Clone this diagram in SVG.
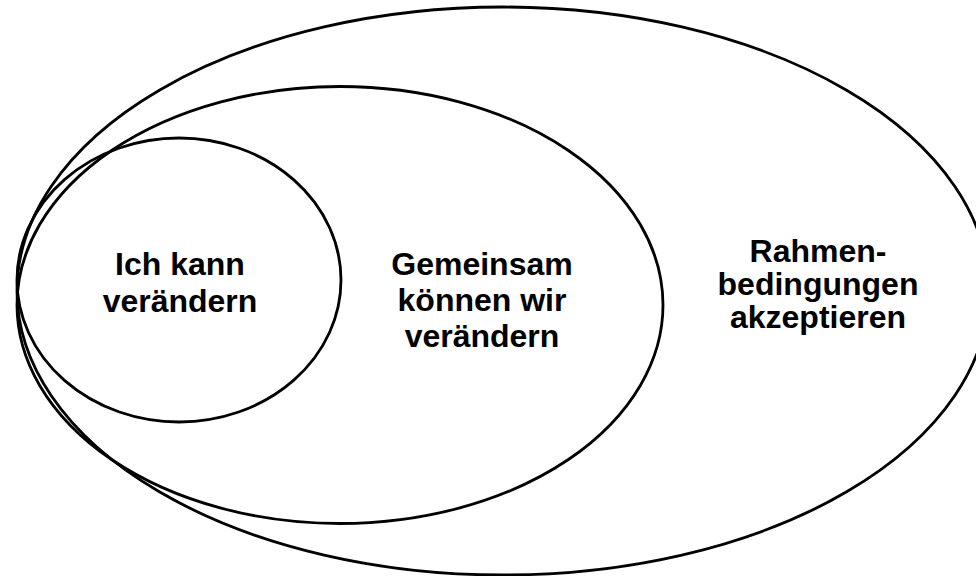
<svg xmlns="http://www.w3.org/2000/svg" width="976" height="576" viewBox="0 0 976 576">
  <style>
    .ring { fill: none; stroke: #000; stroke-width: 2.8; }
    .lbl { font-family: "Liberation Sans", Arial, sans-serif; font-weight: bold; font-size: 32px; fill: #000; text-anchor: middle; }
  </style>
  <rect width="976" height="576" fill="#fff"/>
  <g id="outer">
    <ellipse class="ring" cx="503" cy="291" rx="486" ry="284"/>
    <text class="lbl" x="818" y="262">Rahmen-</text>
    <text class="lbl" x="818" y="295">bedingungen</text>
    <text class="lbl" x="818" y="328">akzeptieren</text>
  </g>
  <g id="middle">
    <ellipse class="ring" cx="340" cy="305" rx="323" ry="218.5"/>
    <text class="lbl" x="482" y="275">Gemeinsam</text>
    <text class="lbl" x="482" y="311">können wir</text>
    <text class="lbl" x="482" y="347">verändern</text>
  </g>
  <g id="inner">
    <ellipse class="ring" cx="179" cy="280" rx="162" ry="142"/>
    <text class="lbl" x="180" y="275">Ich kann</text>
    <text class="lbl" x="180" y="312">verändern</text>
  </g>
  <g id="connectors"/>
</svg>
